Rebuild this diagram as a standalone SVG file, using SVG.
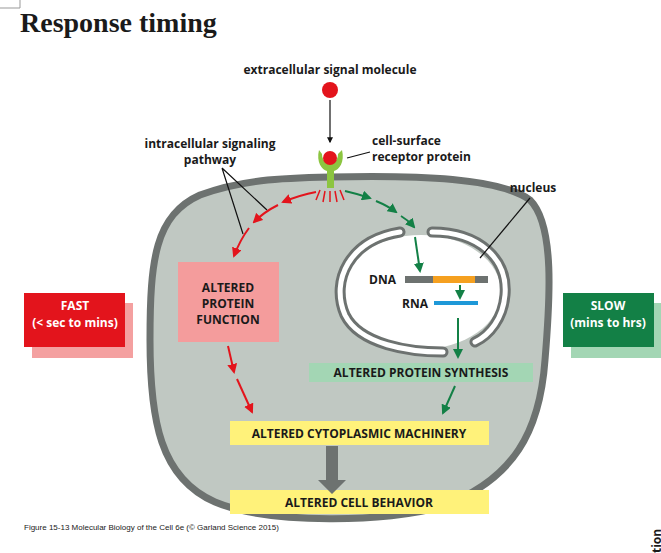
<svg xmlns="http://www.w3.org/2000/svg" width="661" height="553" viewBox="0 0 661 553">
<defs>
<marker id="ar" viewBox="0 0 10 10" refX="8" refY="5" markerWidth="5" markerHeight="5" orient="auto"><path d="M0,0L10,5L0,10z" fill="#e3141c"/></marker>
<marker id="ag" viewBox="0 0 10 10" refX="8" refY="5" markerWidth="5" markerHeight="5" orient="auto"><path d="M0,0L10,5L0,10z" fill="#138046"/></marker>
<marker id="ak" viewBox="0 0 10 10" refX="8" refY="5" markerWidth="5" markerHeight="5" orient="auto"><path d="M0,0L10,5L0,10z" fill="#111"/></marker>
</defs>
<style>
text{font-family:"Open Sans","Liberation Sans",sans-serif;font-weight:bold;font-size:12px;fill:#1a1a1a}
.c{text-anchor:middle}
.w{fill:#fff}
.r{stroke:#e3141c;stroke-width:2;fill:none}
.g{stroke:#138046;stroke-width:2;fill:none}
.k{stroke:#111;stroke-width:1.2;fill:none}
</style>
<rect width="661" height="553" fill="#fff"/>
<text x="20" y="32" style="font-family:'Liberation Serif',serif;font-size:28px">Response timing</text>
<g id="cell">
<path d="M330,177 C420,175 500,178 530,200 C555,225 550,300 545,360 C540,430 515,480 440,507 C390,522 270,525 215,502 C160,478 150,420 150,340 C150,260 155,215 200,195 C240,180 280,178 330,177Z" fill="#c0c8c2" stroke="#6d7270" stroke-width="7"/>
</g>
<g id="nucleus">
<ellipse cx="421" cy="292" rx="80" ry="57" fill="#fff"/>
<path d="M400,232 C350,240 330,280 345,315 C360,345 410,352 443,352" fill="none" stroke="#6d7270" stroke-width="11" stroke-linecap="round"/>
<path d="M400,232 C350,240 330,280 345,315 C360,345 410,352 443,352" fill="none" stroke="#fff" stroke-width="5" stroke-linecap="round"/>
<path d="M432,232 C480,232 508,260 505,295 C503,318 490,335 475,342" fill="none" stroke="#6d7270" stroke-width="11" stroke-linecap="round"/>
<path d="M432,232 C480,232 508,260 505,295 C503,318 490,335 475,342" fill="none" stroke="#fff" stroke-width="5" stroke-linecap="round"/>
<text x="533" y="192" class="c">nucleus</text>
<path class="k" d="M530,198 L480,258"/>
<text x="396" y="284" text-anchor="end">DNA</text>
<rect x="405" y="276" width="83" height="7" fill="#6d7270"/>
<rect x="433" y="276" width="42" height="7" fill="#f5a020"/>
<text x="428" y="308" text-anchor="end">RNA</text>
<rect x="434" y="301" width="44" height="4" fill="#1e98d8"/>
</g>
<g id="signal">
<text x="330" y="74" class="c">extracellular signal molecule</text>
<circle cx="330" cy="90" r="8" fill="#e3141c"/>
</g>
<g id="receptor">
<path d="M319,150 C316,162 322,170 327,171 L327,188 L334,188 L334,171 C339,170 345,162 342,150 L338,154 C338,160 334,164 330,164 C326,164 322,160 322,154Z" fill="#8cc540"/>
<circle cx="330" cy="158" r="7" fill="#e3141c"/>
<text x="372" y="145">cell-surface</text>
<text x="372" y="161">receptor protein</text>
<path class="k" d="M347,158 L370,152"/>
<path d="M320,190 L316,200 M325,191 L323,202 M330,191 L330,202 M335,191 L337,202 M340,190 L344,200" stroke="#e3141c" stroke-width="1.5"/>
</g>
<g id="pathway-label">
<text x="210" y="148" class="c">intracellular signaling</text>
<text x="210" y="164" class="c">pathway</text>
</g>
<g id="fast">
<rect x="32" y="303" width="101" height="55" fill="#f4a0a0"/>
<rect x="24" y="293" width="101" height="54" fill="#e3141c"/>
<text x="75" y="310" class="c w">FAST</text>
<text x="75" y="327" class="c w">(&lt; sec to mins)</text>
</g>
<g id="slow">
<rect x="571" y="303" width="90" height="55" fill="#a3d6b4"/>
<rect x="563" y="293" width="91" height="54" fill="#138046"/>
<text x="608" y="310" class="c w">SLOW</text>
<text x="608" y="327" class="c w">(mins to hrs)</text>
</g>
<g id="protein-function">
<rect x="178" y="262" width="101" height="80" fill="#f49c9c"/>
<text x="228" y="292" class="c">ALTERED</text>
<text x="228" y="308" class="c">PROTEIN</text>
<text x="228" y="324" class="c">FUNCTION</text>
</g>
<g id="protein-synthesis">
<rect x="309" y="363" width="224" height="19" fill="#a3d6b4"/>
<text x="421" y="377" class="c">ALTERED PROTEIN SYNTHESIS</text>
</g>
<g id="cytoplasmic">
<rect x="230" y="421" width="259" height="24" fill="#fff27a"/>
<text x="359" y="438" class="c">ALTERED CYTOPLASMIC MACHINERY</text>
</g>
<g id="behavior">
<rect x="230" y="490" width="259" height="24" fill="#fff27a"/>
<text x="359" y="507" class="c">ALTERED CELL BEHAVIOR</text>
</g>
<g id="connectors">
<path class="k" d="M330,100 L330,142" marker-end="url(#ak)"/>
<path class="k" d="M222,168 L267,210 M222,168 L243,234"/>
<path class="r" d="M316,192 Q300,195 283,202" marker-end="url(#ar)"/>
<path class="r" d="M278,205 Q264,212 254,222" marker-end="url(#ar)"/>
<path class="r" d="M249,228 Q240,240 234,256" marker-end="url(#ar)"/>
<path class="g" d="M345,191 Q358,194 370,198" marker-end="url(#ag)"/>
<path class="g" d="M376,201 Q388,206 396,212" marker-end="url(#ag)"/>
<path class="g" d="M401,216 Q408,220 414,227" marker-end="url(#ag)"/>
<path class="g" d="M415,237 L420,271" marker-end="url(#ag)"/>
<path class="g" d="M460,285 L460,298" marker-end="url(#ag)"/>
<path class="g" d="M458,318 L458,357" marker-end="url(#ag)"/>
<path class="r" d="M228,346 L234,372" marker-end="url(#ar)"/>
<path class="r" d="M237,379 L252,412" marker-end="url(#ar)"/>
<path class="g" d="M455,386 L443,413" marker-end="url(#ag)"/>
<path d="M326,446 L338,446 L338,480 L346,480 L332,494 L318,480 L326,480Z" fill="#6d7270"/>
</g>
<text x="24" y="530" style="font-size:8px;font-weight:normal;font-family:'Liberation Sans Narrow','Liberation Sans',sans-serif">Figure 15-13 Molecular Biology of the Cell 6e (© Garland Science 2015)</text>
<text x="661" y="553" transform="rotate(-90 661 553)" style="font-size:12px">tion</text>
<path d="M0,8 L20,8 L20,0" fill="none" stroke="#999" stroke-width="1"/>
</svg>
